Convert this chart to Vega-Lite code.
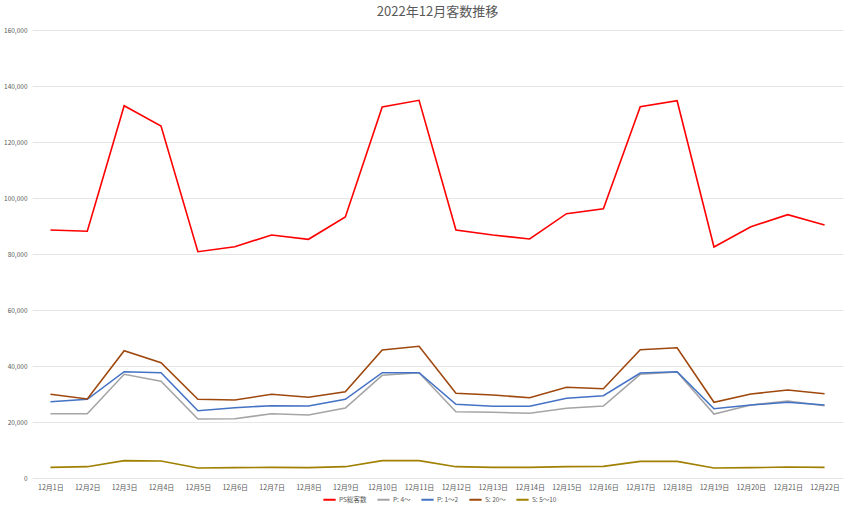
{
  "$schema": "https://vega.github.io/schema/vega-lite/v6.json",
  "width": 811,
  "height": 448,
  "autosize": {"type": "none"},
  "padding": {"left": 32, "top": 30, "right": 9, "bottom": 33},
  "background": "white",
  "title": {
    "text": "2022年12月客数推移",
    "font": "Noto Sans CJK JP",
    "fontSize": 13,
    "fontWeight": "normal",
    "color": "#595959",
    "offset": 8
  },
  "config": {
    "view": {"stroke": null},
    "font": "Noto Sans CJK JP"
  },
  "datasets": {
    "d": [
      {"date": "12月1日", "PS総客数": 88571, "P: 4～": 22964, "P: 1～2": 27250, "S: 20～": 29893, "S: 5～10": 3810},
      {"date": "12月2日", "PS総客数": 88107, "P: 4～": 22964, "P: 1～2": 28107, "S: 20～": 28214, "S: 5～10": 4048},
      {"date": "12月3日", "PS総客数": 132964, "P: 4～": 37036, "P: 1～2": 37964, "S: 20～": 45464, "S: 5～10": 6190},
      {"date": "12月4日", "PS総客数": 125714, "P: 4～": 34536, "P: 1～2": 37607, "S: 20～": 41179, "S: 5～10": 6071},
      {"date": "12月5日", "PS総客数": 80821, "P: 4～": 21071, "P: 1～2": 24036, "S: 20～": 28107, "S: 5～10": 3571},
      {"date": "12月6日", "PS総客数": 82607, "P: 4～": 21179, "P: 1～2": 25107, "S: 20～": 27857, "S: 5～10": 3690},
      {"date": "12月7日", "PS総客数": 86786, "P: 4～": 22964, "P: 1～2": 25821, "S: 20～": 29893, "S: 5～10": 3810},
      {"date": "12月8日", "PS総客数": 85250, "P: 4～": 22500, "P: 1～2": 25714, "S: 20～": 28821, "S: 5～10": 3690},
      {"date": "12月9日", "PS総客数": 93214, "P: 4～": 25000, "P: 1～2": 28107, "S: 20～": 30821, "S: 5～10": 4048},
      {"date": "12月10日", "PS総客数": 132500, "P: 4～": 36679, "P: 1～2": 37607, "S: 20～": 45714, "S: 5～10": 6190},
      {"date": "12月11日", "PS総客数": 134893, "P: 4～": 37607, "P: 1～2": 37607, "S: 20～": 47036, "S: 5～10": 6190},
      {"date": "12月12日", "PS総客数": 88571, "P: 4～": 23679, "P: 1～2": 26321, "S: 20～": 30250, "S: 5～10": 4048},
      {"date": "12月13日", "PS総客数": 86786, "P: 4～": 23464, "P: 1～2": 25607, "S: 20～": 29643, "S: 5～10": 3810},
      {"date": "12月14日", "PS総客数": 85357, "P: 4～": 23107, "P: 1～2": 25607, "S: 20～": 28679, "S: 5～10": 3810},
      {"date": "12月15日", "PS総客数": 94393, "P: 4～": 24893, "P: 1～2": 28464, "S: 20～": 32393, "S: 5～10": 4048},
      {"date": "12月16日", "PS総客数": 96179, "P: 4～": 25714, "P: 1～2": 29393, "S: 20～": 31893, "S: 5～10": 4167},
      {"date": "12月17日", "PS総客数": 132607, "P: 4～": 37036, "P: 1～2": 37500, "S: 20～": 45821, "S: 5～10": 5950},
      {"date": "12月18日", "PS総客数": 134750, "P: 4～": 37857, "P: 1～2": 37964, "S: 20～": 46536, "S: 5～10": 5950},
      {"date": "12月19日", "PS総客数": 82500, "P: 4～": 22857, "P: 1～2": 24750, "S: 20～": 27036, "S: 5～10": 3571},
      {"date": "12月20日", "PS総客数": 89750, "P: 4～": 26071, "P: 1～2": 26071, "S: 20～": 30000, "S: 5～10": 3690},
      {"date": "12月21日", "PS総客数": 94036, "P: 4～": 27500, "P: 1～2": 27036, "S: 20～": 31429, "S: 5～10": 3929},
      {"date": "12月22日", "PS総客数": 90357, "P: 4～": 25821, "P: 1～2": 26071, "S: 20～": 30107, "S: 5～10": 3810}
    ]
  },
  "data": {"name": "d"},
  "transform": [
    {"fold": ["PS総客数", "P: 4～", "P: 1～2", "S: 20～", "S: 5～10"], "as": ["series", "value"]}
  ],
  "mark": {"type": "line", "strokeWidth": 1.6},
  "encoding": {
    "x": {
      "field": "date",
      "type": "ordinal",
      "sort": null,
      "scale": {"type": "point", "padding": 0.5},
      "axis": {
        "title": null,
        "labelAngle": 0,
        "labelFontSize": 7,
        "labelColor": "#595959",
        "labelPadding": 5,
        "domain": false,
        "ticks": false,
        "grid": false
      }
    },
    "y": {
      "field": "value",
      "type": "quantitative",
      "scale": {"domain": [0, 160000], "nice": false},
      "axis": {
        "title": null,
        "values": [0, 20000, 40000, 60000, 80000, 100000, 120000, 140000, 160000],
        "format": ",.0f",
        "labelFontSize": 6.5,
        "labelColor": "#595959",
        "labelPadding": 5,
        "domain": false,
        "ticks": false,
        "gridColor": "#e6e6e6",
        "gridWidth": 1
      }
    },
    "color": {
      "field": "series",
      "type": "nominal",
      "scale": {
        "domain": ["PS総客数", "P: 4～", "P: 1～2", "S: 20～", "S: 5～10"],
        "range": ["#ff0000", "#a5a5a5", "#4472c4", "#9e480e", "#a08000"]
      },
      "legend": {
        "title": null,
        "orient": "none",
        "legendX": 290,
        "legendY": 462,
        "direction": "horizontal",
        "columns": 5,
        "symbolType": "stroke",
        "symbolSize": 150,
        "symbolStrokeWidth": 2,
        "labelFontSize": 6.5,
        "labelColor": "#595959",
        "labelOffset": 2,
        "columnPadding": 6
      }
    }
  }
}
